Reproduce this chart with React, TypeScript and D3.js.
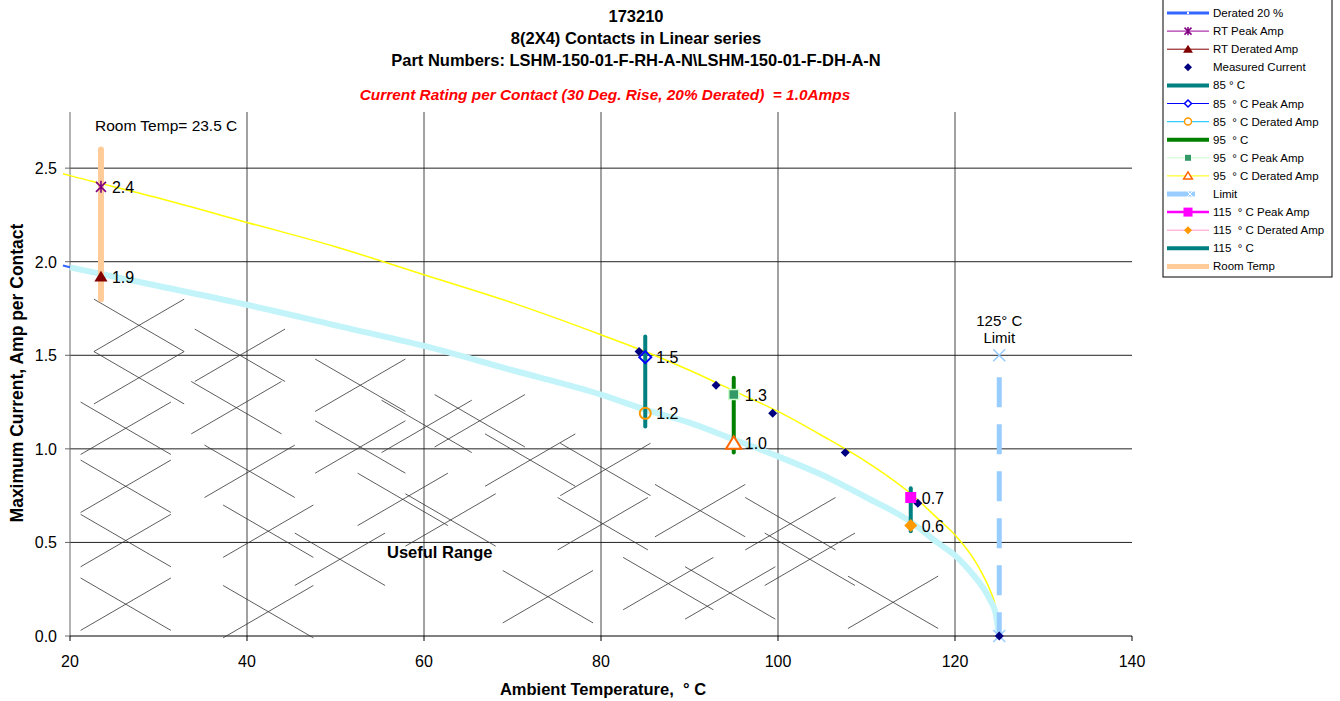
import * as d3 from "d3";

// axis ticks
const tempTicks = [20, 40, 60, 80, 100, 120, 140];
const ampTicks = [0, 0.5, 1.0, 1.5, 2.0, 2.5];

// peak / derated curves
const curveTemps = [19.2, 20, 30, 40, 50, 60, 70, 80, 85, 90, 95, 100, 105, 110, 115, 118, 120, 122, 123, 124, 124.6, 125];
const peakAmps = [2.47, 2.46, 2.34, 2.21, 2.08, 1.93, 1.78, 1.61, 1.52, 1.42, 1.31, 1.2, 1.07, 0.93, 0.76, 0.63, 0.54, 0.42, 0.34, 0.24, 0.15, 0];
const deratedAmps = [1.98, 1.97, 1.87, 1.77, 1.66, 1.55, 1.42, 1.29, 1.21, 1.14, 1.05, 0.96, 0.86, 0.74, 0.61, 0.5, 0.43, 0.33, 0.27, 0.19, 0.12, 0];

// measured current points
const measuredTemps = [84.3, 93.0, 99.4, 107.6, 115.8, 125];
const measuredAmps = [1.52, 1.34, 1.19, 0.98, 0.71, 0];

// rating points: room temp, 85, 95, 115
const ratingTemps = [23.5, 85, 95, 115];
const ratingPeak = [2.4, 1.49, 1.29, 0.74];
const ratingDerated = [1.92, 1.19, 1.03, 0.59];
const peakLabels = ["2.4", "1.5", "1.3", "0.7"];
const deratedLabels = ["1.9", "1.2", "1.0", "0.6"];
const barLow = [1.8, 1.12, 0.98, 0.56];
const barHigh = [2.6, 1.6, 1.38, 0.79];

const limitTemp = 125;
const limitAmps = [0, 1.5];

// "useful range" hatch crosses (centre temp / amp)
const hatchTemps = [27.8, 27.8, 26.3, 26.3, 26.3, 26.3, 39.2, 38.8, 40.3, 42.4, 42.4, 50.5, 52.8, 52.8, 57.6, 60.3, 66.3, 72.0, 80.5, 91.2, 87.6, 94.6, 74.0, 101.4, 103.6, 113.0, 63.0, 80.2];
const hatchAmps = [1.66, 1.38, 1.11, 0.8, 0.51, 0.17, 1.5, 1.22, 0.88, 0.56, 0.13, 0.41, 1.34, 1.01, 0.73, 1.12, 1.15, 0.94, 0.89, 0.67, 0.28, 0.23, 0.21, 0.6, 0.41, 0.18, 0.62, 0.6];

const legendLabels = [
  "Derated 20 %", "RT Peak Amp", "RT Derated Amp", "Measured Current",
  "85 ° C", "85  ° C Peak Amp", "85  ° C Derated Amp", "95  ° C",
  "95  ° C Peak Amp", "95  ° C Derated Amp", "Limit", "115  ° C Peak Amp",
  "115  ° C Derated Amp", "115  ° C", "Room Temp",
];

const FONT = "'Liberation Sans', Arial, sans-serif";

const diamond = (h: number) => `M0,${-h}L${h},0L0,${h}L${-h},0Z`;
const triangle = (h: number) => `M0,${-h}L${h * 1.1},${h * 0.8}L${-h * 1.1},${h * 0.8}Z`;
const cross = (h: number) => `M${-h},${-h}L${h},${h}M${-h},${h}L${h},${-h}`;
const asterisk = (h: number) => `${cross(h)}M0,${-h * 1.2}L0,${h * 1.2}`;
const square = (h: number) => `M${-h},${-h}H${h}V${h}H${-h}Z`;

export default function App() {
  const x = d3.scaleLinear().domain([20, 140]).range([70, 1132]);
  const y = d3.scaleLinear().domain([0, 2.8]).range([636, 112]);

  const line = d3
    .line<[number, number]>()
    .x((d) => x(d[0]))
    .y((d) => y(d[1]))
    .curve(d3.curveMonotoneX);

  const peakPts = curveTemps.map((t, i) => [t, peakAmps[i]] as [number, number]);
  const deratedPts = curveTemps.map((t, i) => [t, deratedAmps[i]] as [number, number]);

  const hw = x(25.1) - x(20);
  const hh = y(0) - y(0.14);

  const barColors = ["#ffcc99", "#008080", "#008000", "#008080"];

  const peakMarker = (i: number, px: number, py: number) => {
    const t = `translate(${px},${py})`;
    if (i === 0) return <path d={asterisk(5)} transform={t} stroke="#800080" strokeWidth={1.6} fill="none" />;
    if (i === 1) return <path d={diamond(6)} transform={t} stroke="#0000ff" strokeWidth={2} fill="none" />;
    if (i === 2) return <path d={square(5)} transform={t} stroke="#ccffcc" strokeWidth={1.5} fill="#339966" />;
    return <path d={square(5.5)} transform={t} fill="#ff00ff" />;
  };
  const deratedMarker = (i: number, px: number, py: number) => {
    const t = `translate(${px},${py})`;
    if (i === 0) return <path d={triangle(6)} transform={t} fill="#800000" />;
    if (i === 1) return <circle cx={px} cy={py} r={5.5} stroke="#ff9900" strokeWidth={2} fill="none" />;
    if (i === 2) return <path d={triangle(7)} transform={t} stroke="#ff6600" strokeWidth={2} fill="#ffffff" />;
    return <path d={diamond(6.5)} transform={t} fill="#ff9900" />;
  };

  const legendSample = (i: number, cy: number) => {
    const x0 = 1167, x1 = 1209, mx = 1188;
    const ln = (color: string, w: number) => <line x1={x0} x2={x1} y1={cy} y2={cy} stroke={color} strokeWidth={w} />;
    switch (i) {
      case 0: return <g>{ln("#3366ff", 3)}<line x1={mx - 1} x2={mx + 1} y1={cy} y2={cy} stroke="#fff" strokeWidth={2} /></g>;
      case 1: return <g>{ln("#990099", 1)}<path d={asterisk(3.5)} transform={`translate(${mx},${cy})`} stroke="#800080" strokeWidth={1.5} fill="none" /></g>;
      case 2: return <g>{ln("#800000", 1)}<path d={triangle(4.5)} transform={`translate(${mx},${cy})`} fill="#800000" /></g>;
      case 3: return <path d={diamond(4)} transform={`translate(${mx},${cy})`} fill="#000080" />;
      case 4: return ln("#008080", 4);
      case 5: return <g>{ln("#0000ff", 1.2)}<path d={diamond(3.5)} transform={`translate(${mx},${cy})`} stroke="#0000ff" strokeWidth={1.5} fill="#fff" /></g>;
      case 6: return <g>{ln("#33ccff", 1.2)}<circle cx={mx} cy={cy} r={3.5} stroke="#ff9900" strokeWidth={1.5} fill="#fff" /></g>;
      case 7: return ln("#008000", 4);
      case 8: return <g>{ln("#ccffcc", 1)}<path d={square(3)} transform={`translate(${mx},${cy})`} fill="#339966" /></g>;
      case 9: return <g>{ln("#ffff00", 1)}<path d={triangle(4)} transform={`translate(${mx},${cy})`} stroke="#ff6600" strokeWidth={1.5} fill="#fff" /></g>;
      case 10: return <g><line x1={x0} x2={1195} y1={cy} y2={cy} stroke="#99ccff" strokeWidth={5} /><path d={cross(3.5)} transform={`translate(1190,${cy})`} stroke="#ffffff" strokeWidth={1} /></g>;
      case 11: return <g>{ln("#ff00ff", 2.5)}<path d={square(4.5)} transform={`translate(${mx},${cy})`} fill="#ff00ff" /></g>;
      case 12: return <g>{ln("#ff99cc", 1)}<path d={diamond(4)} transform={`translate(${mx},${cy})`} fill="#ff9900" /></g>;
      case 13: return ln("#008080", 4);
      default: return ln("#ffcc99", 5);
    }
  };

  return (
    <svg width={1340} height={701} style={{ position: "absolute", left: 0, top: 0, background: "#fff" }} fontFamily={FONT}>
      {/* titles */}
      <g fontWeight="bold" fontSize={16.5} textAnchor="middle" fill="#000">
        <text x={636} y={22}>173210</text>
        <text x={636} y={44}>8(2X4) Contacts in Linear series</text>
        <text x={636} y={65.5}>Part Numbers: LSHM-150-01-F-RH-A-N\LSHM-150-01-F-DH-A-N</text>
      </g>
      <text x={605} y={100} textAnchor="middle" fontSize={15.4} fontWeight="bold" fontStyle="italic" fill="#ff0000" style={{ whiteSpace: "pre" }}>
        {"Current Rating per Contact (30 Deg. Rise, 20% Derated)  = 1.0Amps"}
      </text>

      {/* grid */}
      {tempTicks.filter((t) => t > 20 && t < 140).map((t) => (
        <line key={"vx" + t} x1={x(t)} x2={x(t)} y1={y(2.8)} y2={y(0)} stroke="#444" strokeWidth={1} />
      ))}
      {ampTicks.filter((a) => a > 0).map((a) => (
        <line key={"hy" + a} x1={x(20)} x2={x(140)} y1={y(a)} y2={y(a)} stroke="#222" strokeWidth={1} />
      ))}

      {/* axes */}
      <line x1={x(20)} x2={x(20)} y1={y(2.8)} y2={y(0)} stroke="#666" />
      {ampTicks.map((a) => (
        <g key={"ya" + a}>
          <line x1={x(20) - 5} x2={x(20)} y1={y(a)} y2={y(a)} stroke="#666" />
          <text x={57} y={y(a) + 6} textAnchor="end" fontSize={16}>{a.toFixed(1)}</text>
        </g>
      ))}
      <line x1={x(20)} x2={x(140)} y1={y(0)} y2={y(0)} stroke="#000" />
      {tempTicks.map((t) => (
        <g key={"xa" + t}>
          <line x1={x(t)} x2={x(t)} y1={y(0)} y2={y(0) + 5} stroke="#000" />
          <text x={x(t)} y={667} textAnchor="middle" fontSize={16}>{t}</text>
        </g>
      ))}
      <text x={603} y={695} textAnchor="middle" fontSize={16.5} fontWeight="bold" style={{ whiteSpace: "pre" }}>
        {"Ambient Temperature,  ° C"}
      </text>
      <text transform="translate(23,373) rotate(-90)" textAnchor="middle" fontSize={17.5} fontWeight="bold">
        Maximum Current, Amp per Contact
      </text>

      {/* useful range hatch */}
      <g stroke="#333" strokeWidth={0.8}>
        {hatchTemps.map((t, i) => (
          <path key={"h" + i} d={`M${x(t) - hw},${y(hatchAmps[i]) - hh}L${x(t) + hw},${y(hatchAmps[i]) + hh}M${x(t) - hw},${y(hatchAmps[i]) + hh}L${x(t) + hw},${y(hatchAmps[i]) - hh}`} />
        ))}
      </g>
      <text x={387} y={558} fontSize={16.5} fontWeight="bold">Useful Range</text>
      <text x={95} y={131} fontSize={15.5}>Room Temp= 23.5 C</text>

      {/* curves */}
      <path d={line(peakPts) || ""} fill="none" stroke="#ffff00" strokeWidth={1.5} />
      <path d={line(deratedPts) || ""} fill="none" stroke="#3366ff" strokeWidth={2} />
      <path d={line(deratedPts.slice(1)) || ""} fill="none" stroke="#c2f4fa" strokeWidth={6} />

      {/* limit */}
      <line x1={x(limitTemp)} x2={x(limitTemp)} y1={y(limitAmps[1]) + 22} y2={y(limitAmps[0])} stroke="#99ccff" strokeWidth={5} strokeDasharray="30 17" />
      <path d={cross(6)} transform={`translate(${x(limitTemp)},${y(limitAmps[1])})`} stroke="#99ccff" strokeWidth={1.5} />
      <path d={cross(6)} transform={`translate(${x(limitTemp)},${y(limitAmps[0])})`} stroke="#99ccff" strokeWidth={1.5} />
      <text x={x(limitTemp)} y={326} textAnchor="middle" fontSize={15}>125° C</text>
      <text x={x(limitTemp)} y={343} textAnchor="middle" fontSize={15}>Limit</text>

      {/* rating bars */}
      {ratingTemps.map((t, i) => (
        <line key={"b" + i} x1={x(t)} x2={x(t)} y1={y(barLow[i])} y2={y(barHigh[i])} stroke={barColors[i]} strokeWidth={i === 0 ? 6 : 4} strokeLinecap="round" />
      ))}

      {/* measured current */}
      {measuredTemps.map((t, i) => (
        <path key={"m" + i} d={diamond(4.5)} transform={`translate(${x(t)},${y(measuredAmps[i])})`} fill="#000080" />
      ))}

      {/* rating markers + labels */}
      {ratingTemps.map((t, i) => (
        <g key={"r" + i}>
          {peakMarker(i, x(t), y(ratingPeak[i]))}
          {deratedMarker(i, x(t), y(ratingDerated[i]))}
          <text x={x(t) + 11} y={y(ratingPeak[i]) + 6} fontSize={16}>{peakLabels[i]}</text>
          <text x={x(t) + 11} y={y(ratingDerated[i]) + 6} fontSize={16}>{deratedLabels[i]}</text>
        </g>
      ))}

      {/* legend */}
      <rect x={1163} y={-1} width={169} height={278} fill="#fff" stroke="#000" strokeWidth={1} />
      {legendLabels.map((l, i) => {
        const cy = 13 + i * 18.1;
        return (
          <g key={"l" + i}>
            {legendSample(i, cy)}
            <text x={1213} y={cy + 4} fontSize={11.5} style={{ whiteSpace: "pre" }}>{l}</text>
          </g>
        );
      })}
    </svg>
  );
}
